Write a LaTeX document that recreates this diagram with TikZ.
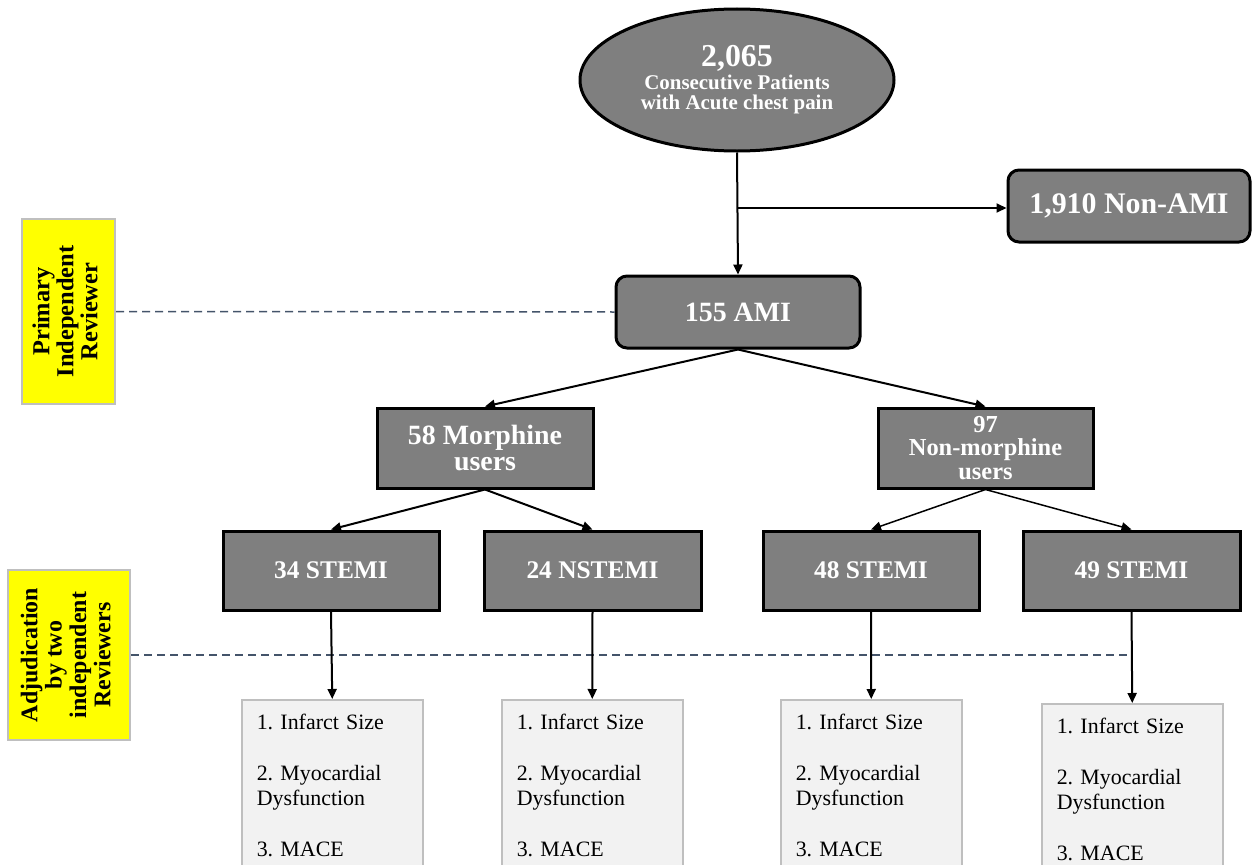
\documentclass[tikz,border=0pt]{standalone}
\usepackage{fontspec}
\usepackage{graphicx}
\setmainfont{Liberation Serif}
\usetikzlibrary{arrows.meta,shapes.geometric}
\definecolor{boxgray}{HTML}{7F7F7F}
\definecolor{dashc}{HTML}{44546A}
\definecolor{outfill}{HTML}{F2F2F2}
\definecolor{outline}{HTML}{BFBFBF}
\definecolor{ylw}{HTML}{FFFF00}
\begin{document}
\frenchspacing
\begin{tikzpicture}[x=1bp,y=-1bp,
  dark/.style={draw=black, line width=3bp, fill=boxgray, text=white, font=\bfseries, align=center, inner sep=0pt},
  rdark/.style={dark, rounded corners=11bp},
  ybox/.style={draw=outline, line width=2bp, fill=ylw, inner sep=0pt, font=\bfseries},
  outbox/.style={draw=outline, line width=1.5bp, fill=outfill, anchor=north west, inner xsep=15bp, inner ysep=14bp,
     text width=151bp, align=left, font=\frenchspacing\fontsize{22}{25.5}\selectfont},
  arr/.style={draw=black, line width=2bp, -{Triangle[length=10bp,width=9bp]}},
  tarr/.style={draw=black, line width=1.5bp, -{Triangle[length=10bp,width=9bp]}},
  dashln/.style={draw=dashc, line width=1.5bp, dash pattern=on 8bp off 5bp}
]
\useasboundingbox[fill=white] (0,0) rectangle (1252,865);

% top ellipse
\node[dark, ellipse, minimum width=314bp, minimum height=142bp, font=\bfseries\fontsize{21}{20}\selectfont] (ell) at (737,80)
  {{\fontsize{32}{32}\selectfont 2,065}\\[3bp]
   Consecutive Patients\\
   with Acute chest pain};

\node[rdark, minimum width=242bp, minimum height=72bp, font=\bfseries\fontsize{30}{30}\selectfont] (nonami) at (1129,206) {1,910 Non-AMI};
\node[rdark, minimum width=244bp, minimum height=72bp, font=\bfseries\fontsize{28}{30}\selectfont] (ami) at (738,312) {155 AMI};

\node[dark, minimum width=216bp, minimum height=80bp, font=\bfseries\fontsize{28}{26}\selectfont] (morph) at (485,448) {58 Morphine\\users};
\node[dark, minimum width=215bp, minimum height=80bp, font=\bfseries\fontsize{24.5}{24}\selectfont] (nonmorph) at (985.5,448) {97\\Non-morphine\\users};

\node[dark, minimum width=216bp, minimum height=79bp, font=\bfseries\fontsize{25.5}{30}\selectfont] (s34) at (331,570.5) {34 STEMI};
\node[dark, minimum width=217bp, minimum height=79bp, font=\bfseries\fontsize{25.5}{30}\selectfont] (n24) at (592.5,570.5) {24 NSTEMI};
\node[dark, minimum width=216bp, minimum height=79bp, font=\bfseries\fontsize{25.5}{30}\selectfont] (s48) at (871,570.5) {48 STEMI};
\node[dark, minimum width=217bp, minimum height=79bp, font=\bfseries\fontsize{25.5}{30}\selectfont] (s49) at (1131.5,570.5) {49 STEMI};

% outcome boxes
\node[outbox] (o1) at (241,699) {1. Infarct Size\\[25.5bp]2. Myocardial\\Dysfunction\\[25.5bp]3. MACE};
\node[outbox] (o2) at (501,699) {1. Infarct Size\\[25.5bp]2. Myocardial\\Dysfunction\\[25.5bp]3. MACE};
\node[outbox] (o3) at (780,699) {1. Infarct Size\\[25.5bp]2. Myocardial\\Dysfunction\\[25.5bp]3. MACE};
\node[outbox] (o4) at (1041,703) {1. Infarct Size\\[25.5bp]2. Myocardial\\Dysfunction\\[25.5bp]3. MACE};

% yellow reviewer boxes
\node[ybox, minimum width=93bp, minimum height=185bp] (prim) at (68.5,311.5)
  {\rotatebox{90}{\fontsize{24.5}{24}\selectfont\bfseries
   \begin{tabular}{@{}c@{}}Primary\\Independent\\Reviewer\end{tabular}}};
\node[ybox, minimum width=122bp, minimum height=170bp] (adj) at (69,655)
  {\rotatebox{90}{\fontsize{24}{24.5}\selectfont\bfseries
   \begin{tabular}{@{}c@{}}Adjudication\\by two\\independent\\Reviewers\end{tabular}}};

% dashed guide lines
\draw[dashln] (prim.east) -- (ami.west);
\draw[dashln] (adj.east) -- (adj.east -| o4.north);

% connectors
\coordinate (br) at (737,208);
\draw[arr] (ell.south) -- (ami.north);
\draw[arr] (br) -- (br -| nonami.west);
\draw[arr] (ami.south) -- (morph.north);
\draw[arr] (ami.south) -- (nonmorph.north);
\draw[arr] (morph.south) -- (s34.north);
\draw[arr] (morph.south) -- (n24.north);
\draw[tarr] (nonmorph.south) -- (s48.north);
\draw[tarr] (nonmorph.south) -- (s49.north);
\draw[arr] (s34.south) -- (o1.north);
\draw[arr] (n24.south) -- (o2.north);
\draw[arr] (s48.south) -- (o3.north);
\draw[arr] (s49.south) -- (o4.north);
\end{tikzpicture}
\end{document}
